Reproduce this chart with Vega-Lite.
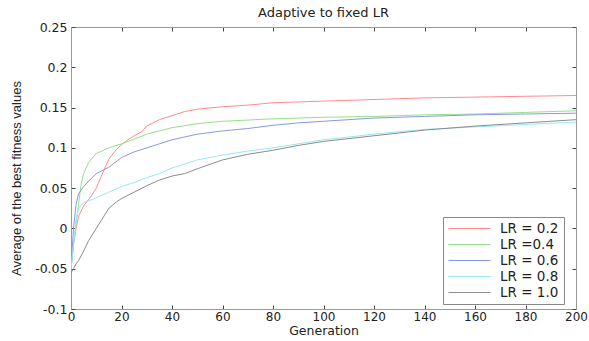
{
  "$schema": "https://vega.github.io/schema/vega-lite/v6.json",
  "width": 505,
  "height": 282,
  "autosize": {"type": "none"},
  "padding": {"left": 71, "top": 27, "right": 13, "bottom": 32},
  "background": "white",
  "config": {
    "font": "DejaVu Sans",
    "view": {"stroke": null},
    "axis": {"grid": false, "domainColor": "#999", "tickColor": "#444", "labelColor": "#222", "titleColor": "#222", "labelFont": "DejaVu Sans", "titleFont": "DejaVu Sans", "labelFontSize": 12.5, "titleFontSize": 13, "titleFontWeight": "normal"}
  },
  "title": {"text": "Adaptive to fixed LR", "fontSize": 13, "fontWeight": "normal", "font": "DejaVu Sans", "color": "#222", "offset": 1},
  "data": {"values": [
    {"g":0,"v":-0.05,"s":"LR = 0.2"},{"g":1,"v":-0.02,"s":"LR = 0.2"},{"g":2,"v":0.0,"s":"LR = 0.2"},{"g":3,"v":0.015,"s":"LR = 0.2"},{"g":5,"v":0.028,"s":"LR = 0.2"},{"g":8,"v":0.04,"s":"LR = 0.2"},{"g":10,"v":0.05,"s":"LR = 0.2"},{"g":12,"v":0.065,"s":"LR = 0.2"},{"g":15,"v":0.086,"s":"LR = 0.2"},{"g":18,"v":0.098,"s":"LR = 0.2"},{"g":20,"v":0.104,"s":"LR = 0.2"},{"g":22,"v":0.109,"s":"LR = 0.2"},{"g":25,"v":0.115,"s":"LR = 0.2"},{"g":28,"v":0.12,"s":"LR = 0.2"},{"g":30,"v":0.127,"s":"LR = 0.2"},{"g":35,"v":0.135,"s":"LR = 0.2"},{"g":40,"v":0.14,"s":"LR = 0.2"},{"g":45,"v":0.145,"s":"LR = 0.2"},{"g":50,"v":0.148,"s":"LR = 0.2"},{"g":60,"v":0.151,"s":"LR = 0.2"},{"g":70,"v":0.153,"s":"LR = 0.2"},{"g":80,"v":0.156,"s":"LR = 0.2"},{"g":90,"v":0.157,"s":"LR = 0.2"},{"g":100,"v":0.158,"s":"LR = 0.2"},{"g":120,"v":0.16,"s":"LR = 0.2"},{"g":140,"v":0.162,"s":"LR = 0.2"},{"g":160,"v":0.163,"s":"LR = 0.2"},{"g":180,"v":0.164,"s":"LR = 0.2"},{"g":200,"v":0.165,"s":"LR = 0.2"},
    {"g":0,"v":-0.05,"s":"LR =0.4"},{"g":1,"v":-0.02,"s":"LR =0.4"},{"g":2,"v":0.005,"s":"LR =0.4"},{"g":3,"v":0.03,"s":"LR =0.4"},{"g":4,"v":0.055,"s":"LR =0.4"},{"g":5,"v":0.068,"s":"LR =0.4"},{"g":7,"v":0.082,"s":"LR =0.4"},{"g":10,"v":0.093,"s":"LR =0.4"},{"g":15,"v":0.1,"s":"LR =0.4"},{"g":20,"v":0.105,"s":"LR =0.4"},{"g":30,"v":0.117,"s":"LR =0.4"},{"g":40,"v":0.125,"s":"LR =0.4"},{"g":50,"v":0.13,"s":"LR =0.4"},{"g":60,"v":0.133,"s":"LR =0.4"},{"g":80,"v":0.136,"s":"LR =0.4"},{"g":100,"v":0.138,"s":"LR =0.4"},{"g":120,"v":0.139,"s":"LR =0.4"},{"g":140,"v":0.141,"s":"LR =0.4"},{"g":160,"v":0.142,"s":"LR =0.4"},{"g":180,"v":0.144,"s":"LR =0.4"},{"g":200,"v":0.146,"s":"LR =0.4"},
    {"g":0,"v":-0.05,"s":"LR = 0.6"},{"g":1,"v":0.0,"s":"LR = 0.6"},{"g":2,"v":0.03,"s":"LR = 0.6"},{"g":3,"v":0.043,"s":"LR = 0.6"},{"g":5,"v":0.052,"s":"LR = 0.6"},{"g":8,"v":0.062,"s":"LR = 0.6"},{"g":10,"v":0.068,"s":"LR = 0.6"},{"g":15,"v":0.076,"s":"LR = 0.6"},{"g":20,"v":0.088,"s":"LR = 0.6"},{"g":25,"v":0.095,"s":"LR = 0.6"},{"g":30,"v":0.1,"s":"LR = 0.6"},{"g":40,"v":0.11,"s":"LR = 0.6"},{"g":50,"v":0.117,"s":"LR = 0.6"},{"g":60,"v":0.121,"s":"LR = 0.6"},{"g":70,"v":0.124,"s":"LR = 0.6"},{"g":80,"v":0.128,"s":"LR = 0.6"},{"g":90,"v":0.131,"s":"LR = 0.6"},{"g":100,"v":0.133,"s":"LR = 0.6"},{"g":120,"v":0.137,"s":"LR = 0.6"},{"g":140,"v":0.139,"s":"LR = 0.6"},{"g":160,"v":0.141,"s":"LR = 0.6"},{"g":180,"v":0.142,"s":"LR = 0.6"},{"g":200,"v":0.143,"s":"LR = 0.6"},
    {"g":0,"v":-0.05,"s":"LR = 0.8"},{"g":1,"v":-0.02,"s":"LR = 0.8"},{"g":2,"v":0.01,"s":"LR = 0.8"},{"g":3,"v":0.025,"s":"LR = 0.8"},{"g":5,"v":0.032,"s":"LR = 0.8"},{"g":10,"v":0.038,"s":"LR = 0.8"},{"g":15,"v":0.045,"s":"LR = 0.8"},{"g":20,"v":0.052,"s":"LR = 0.8"},{"g":25,"v":0.057,"s":"LR = 0.8"},{"g":30,"v":0.063,"s":"LR = 0.8"},{"g":35,"v":0.068,"s":"LR = 0.8"},{"g":40,"v":0.075,"s":"LR = 0.8"},{"g":50,"v":0.085,"s":"LR = 0.8"},{"g":60,"v":0.091,"s":"LR = 0.8"},{"g":70,"v":0.096,"s":"LR = 0.8"},{"g":80,"v":0.1,"s":"LR = 0.8"},{"g":90,"v":0.105,"s":"LR = 0.8"},{"g":100,"v":0.11,"s":"LR = 0.8"},{"g":120,"v":0.117,"s":"LR = 0.8"},{"g":140,"v":0.123,"s":"LR = 0.8"},{"g":160,"v":0.126,"s":"LR = 0.8"},{"g":180,"v":0.129,"s":"LR = 0.8"},{"g":200,"v":0.132,"s":"LR = 0.8"},
    {"g":0,"v":-0.055,"s":"LR = 1.0"},{"g":1,"v":-0.05,"s":"LR = 1.0"},{"g":2,"v":-0.044,"s":"LR = 1.0"},{"g":3,"v":-0.04,"s":"LR = 1.0"},{"g":5,"v":-0.028,"s":"LR = 1.0"},{"g":7,"v":-0.015,"s":"LR = 1.0"},{"g":10,"v":0,"s":"LR = 1.0"},{"g":12,"v":0.01,"s":"LR = 1.0"},{"g":15,"v":0.025,"s":"LR = 1.0"},{"g":18,"v":0.033,"s":"LR = 1.0"},{"g":20,"v":0.037,"s":"LR = 1.0"},{"g":25,"v":0.045,"s":"LR = 1.0"},{"g":30,"v":0.053,"s":"LR = 1.0"},{"g":35,"v":0.06,"s":"LR = 1.0"},{"g":40,"v":0.065,"s":"LR = 1.0"},{"g":45,"v":0.068,"s":"LR = 1.0"},{"g":50,"v":0.074,"s":"LR = 1.0"},{"g":60,"v":0.085,"s":"LR = 1.0"},{"g":70,"v":0.092,"s":"LR = 1.0"},{"g":80,"v":0.097,"s":"LR = 1.0"},{"g":90,"v":0.103,"s":"LR = 1.0"},{"g":100,"v":0.108,"s":"LR = 1.0"},{"g":120,"v":0.115,"s":"LR = 1.0"},{"g":140,"v":0.122,"s":"LR = 1.0"},{"g":160,"v":0.127,"s":"LR = 1.0"},{"g":180,"v":0.131,"s":"LR = 1.0"},{"g":200,"v":0.135,"s":"LR = 1.0"}
  ]},
  "layer": [
    {
      "mark": {"type": "line", "strokeWidth": 1, "clip": true},
      "encoding": {
        "x": {"field": "g", "type": "quantitative", "scale": {"domain": [0, 200], "nice": false, "zero": false},
              "axis": {"title": "Generation", "values": [0,20,40,60,80,100,120,140,160,180,200], "tickSize": -4, "labelPadding": 6, "labelFontSize": 12, "titleFontSize": 12.5, "titlePadding": 2, "labelFlush": false}},
        "y": {"field": "v", "type": "quantitative", "scale": {"domain": [-0.1, 0.25], "nice": false, "zero": false},
              "axis": {"title": "Average of the best fitness values", "titleFont": "Liberation Sans", "titleFontSize": 13, "titleX": -48, "titleY": 151, "titleAngle": -90, "titleBaseline": "bottom", "titleAlign": "center", "values": [-0.1,-0.05,0,0.05,0.1,0.15,0.2,0.25], "labelExpr": "'' + datum.value", "labelFontSize": 12.5, "tickSize": -4, "labelPadding": 8, "labelFlush": false}},
        "color": {"field": "s", "type": "nominal",
                  "scale": {"domain": ["LR = 0.2", "LR =0.4", "LR = 0.6", "LR = 0.8", "LR = 1.0"], "range": ["#ff8c8c", "#96e08c", "#8c96e6", "#96eaf0", "#8c8c8c"]},
                  "legend": {"title": null, "orient": "none", "legendX": 372, "legendY": 190, "symbolType": "stroke", "symbolSize": 1764, "symbolStrokeWidth": 1, "clipHeight": 13, "labelFontSize": 13.5, "labelFont": "DejaVu Sans", "labelColor": "#222", "rowPadding": 2, "padding": 5, "strokeColor": "#888", "fillColor": "white", "labelOffset": 9}}
      }
    },
    {
      "mark": {"type": "line", "opacity": 0},
      "encoding": {
        "x": {"field": "g", "type": "quantitative", "scale": {"domain": [0, 200], "nice": false, "zero": false},
              "axis": {"orient": "top", "title": null, "labels": false, "values": [0,20,40,60,80,100,120,140,160,180,200], "tickSize": -4}},
        "y": {"field": "v", "type": "quantitative", "scale": {"domain": [-0.1, 0.25], "nice": false, "zero": false},
              "axis": {"orient": "right", "title": null, "labels": false, "values": [-0.1,-0.05,0,0.05,0.1,0.15,0.2,0.25], "tickSize": -4}}
      }
    }
  ],
  "resolve": {"scale": {"x": "independent", "y": "independent"}}
}
